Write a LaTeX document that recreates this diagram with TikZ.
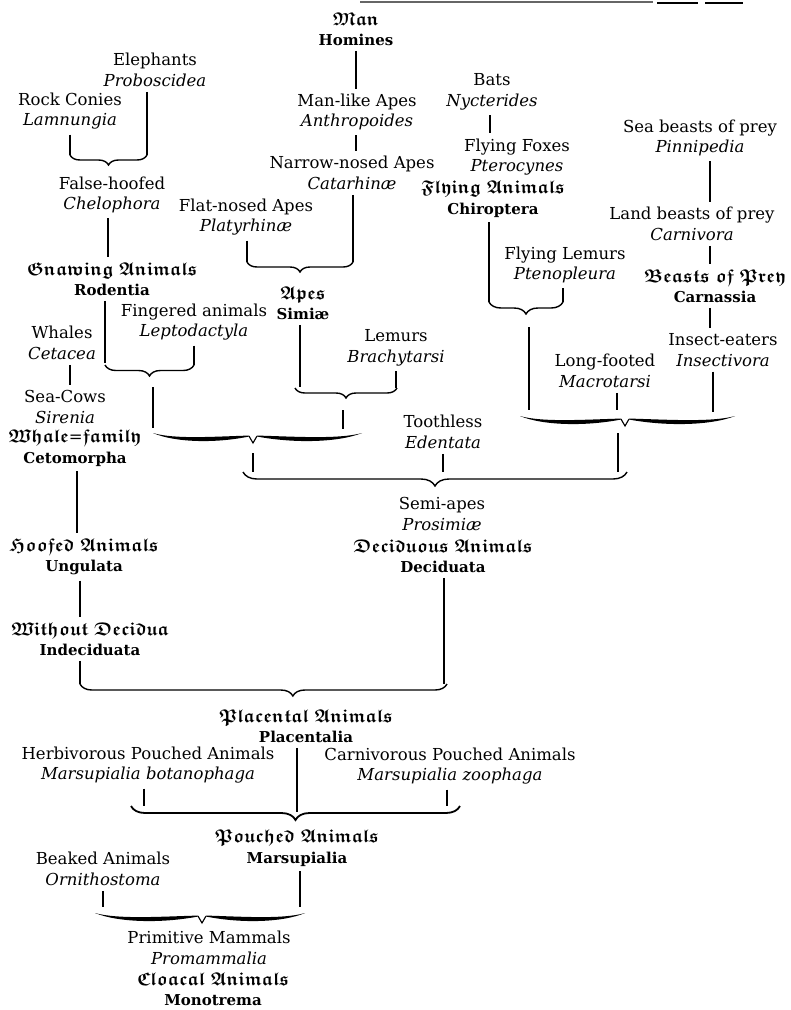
\documentclass[tikz,border=0pt]{standalone}
\usepackage{amssymb}
\usepackage{fontspec}
\setmainfont{DejaVu Serif}
\usetikzlibrary{decorations.pathreplacing}
\newcommand\fraktext[1]{{\fontsize{18.5}{20.5}\selectfont\mathversion{bold}$\mathfrak{#1}$}}
\newcommand\latname[1]{\textit{#1}}
\newcommand\grpname[1]{{\bfseries\fontsize{15}{20.5}\selectfont #1}}
% swelling brace: left end, tip, right end, height, amplitude
\newcommand\ornbrace[5]{%
  \fill ({#1},{#4+0.17*#5}) .. controls ({#1+0.22*(#2-#1)},{#4+0.71*#5}) and ({#1+0.62*(#2-#1)},{#4+0.46*#5}) .. ({#2-4},{#4+0.38*#5})
    -- ({#2-4},{#4+0.46*#5}) .. controls ({#1+0.62*(#2-#1)},{#4+1.04*#5}) and ({#1+0.22*(#2-#1)},{#4+0.96*#5}) .. cycle;
  \fill ({#3},{#4+0.17*#5}) .. controls ({#3-0.22*(#3-#2)},{#4+0.71*#5}) and ({#3-0.62*(#3-#2)},{#4+0.46*#5}) .. ({#2+4},{#4+0.38*#5})
    -- ({#2+4},{#4+0.46*#5}) .. controls ({#3-0.62*(#3-#2)},{#4+1.04*#5}) and ({#3-0.22*(#3-#2)},{#4+0.96*#5}) .. cycle;
  \draw[line width=1.1pt] ({#2-4},{#4+0.42*#5}) -- ({#2},{#4+#5}) -- ({#2+4},{#4+0.42*#5});
}

\begin{document}
\begin{tikzpicture}[x=1pt,y=-1pt,
  taxon/.style={align=center,inner sep=2pt,font=\fontsize{16.5}{20.5}\selectfont},
  link/.style={line width=1.5pt,shorten <=3pt,shorten >=3pt},
  stem/.style={line width=1.5pt,shorten <=3pt},
  lbrace/.style={decorate,decoration={brace,amplitude=#1},line width=1.4pt}]
\useasboundingbox (0,0) rectangle (791,1010);
% rule at the head of the page
\draw[line width=1.1pt,black!60] (360,2) -- (653,2);
\draw[line width=1.3pt] (657,3) -- (698,3) (705,3) -- (743,3);

% apes and their kin
\node[taxon] (man) at (356,29) {\fraktext{Man}\\\grpname{Homines}};
\node[taxon] (manlike) at (357,112) {Man-like Apes\\\latname{Anthropoides}};
\node[taxon] (narrow) at (352,173) {Narrow-nosed Apes\\\latname{Catarhinæ}};
\node[taxon] (flat) at (246,217) {Flat-nosed Apes\\\latname{Platyrhinæ}};
\node[taxon] (apes) at (303,303) {\fraktext{Apes}\\\grpname{Simiæ}};
\node[taxon] (lemurs) at (396,348) {Lemurs\\\latname{Brachytarsi}};
% hoofed side
\node[taxon] (eleph) at (155,70) {Elephants\\\latname{Proboscidea}};
\node[taxon] (rock) at (70,111) {Rock Conies\\\latname{Lamnungia}};
\node[taxon] (false) at (112,195) {False-hoofed\\\latname{Chelophora}};
\node[taxon] (gnaw) at (112,279) {\fraktext{Gnawing\ Animals}\\\grpname{Rodentia}};
\node[taxon] (finger) at (194,322) {Fingered animals\\\latname{Leptodactyla}};
\node[taxon] (whales) at (62,343) {Whales\\\latname{Cetacea}};
\node[taxon] (seacow) at (65,407) {Sea-Cows\\\latname{Sirenia}};
\node[taxon] (cetom) at (75,448) {\fraktext{Whale}=\fraktext{family}\\\grpname{Cetomorpha}};
\node[taxon] (hoofed) at (84,557) {\fraktext{Hoofed\ Animals}\\\grpname{Ungulata}};
\node[taxon] (without) at (90,639) {\fraktext{Without\ Decidua}\\\grpname{Indeciduata}};
% bats and beasts of prey
\node[taxon] (bats) at (492,92) {Bats\\\latname{Nycterides}};
\node[taxon] (foxes) at (517,157) {Flying Foxes\\\latname{Pterocynes}};
\node[taxon] (chiro) at (493,199) {\fraktext{Flying\ Animals}\\\grpname{Chiroptera}};
\node[taxon] (flylem) at (565,265) {Flying Lemurs\\\latname{Ptenopleura}};
\node[taxon] (seabeast) at (700,138) {Sea beasts of prey\\\latname{Pinnipedia}};
\node[taxon] (landbeast) at (692,224) {Land beasts of prey\\\latname{Carnivora}};
\node[taxon] (beasts) at (715,286) {\fraktext{Beasts\ of\ Prey}\\\grpname{Carnassia}};
\node[taxon] (insect) at (723,350) {Insect-eaters\\\latname{Insectivora}};
\node[taxon] (longf) at (605,371) {Long-footed\\\latname{Macrotarsi}};
\node[taxon] (tooth) at (443,432) {Toothless\\\latname{Edentata}};
\node[taxon] (semi) at (442,514) {Semi-apes\\\latname{Prosimiæ}};
\node[taxon] (decid) at (443,556) {\fraktext{Deciduous\ Animals}\\\grpname{Deciduata}};
% lower stem
\node[taxon] (placental) at (306,726) {\fraktext{Placental\ Animals}\\\grpname{Placentalia}};
\node[taxon] (herb) at (148,765) {Herbivorous Pouched Animals\\\latname{Marsupialia botanophaga}};
\node[taxon] (carn) at (450,766) {Carnivorous Pouched Animals\\\latname{Marsupialia zoophaga}};
\node[taxon] (pouched) at (297,848) {\fraktext{Pouched\ Animals}\\\grpname{Marsupialia}};
\node[taxon] (beaked) at (103,869) {Beaked Animals\\\latname{Ornithostoma}};
\node[taxon] (primitive) at (209,948) {Primitive Mammals\\\latname{Promammalia}};
\node[taxon] (cloacal) at (213,989) {\fraktext{Cloacal\ Animals}\\\grpname{Monotrema}};

% straight descents
\foreach \a/\b/\x in {man/manlike/356,manlike/narrow/356,false/gnaw/108,whales/seacow/70,
    cetom/hoofed/77,hoofed/without/80,bats/foxes/490,seabeast/landbeast/710,
    landbeast/beasts/710,beasts/insect/710} {
  \coordinate (v) at (\x,0);
  \draw[link] (\a.south -| v) -- (\b.north -| v);
}
% stems into the braces
\foreach \a/\x/\y in {flat/247/262,narrow/353/262,rock/70/155,eleph/147/155,gnaw/105/363,
    finger/194/365,apes/300/387,lemurs/396/388,chiro/489/302,flylem/563/302,longf/617/410,
    insect/713/412,tooth/443/472,decid/444/684,without/80/684,herb/144/806,carn/447/806,
    placental/297/812,pouched/300/907,beaked/103/907} {
  \coordinate (e) at (\x,\y);
  \draw[stem] (\a.south -| e) -- (e);
}
% from a brace tip down to the next brace
\foreach \x/\ya/\yb in {153/387/428,343/410/429,253/453/472,529/327/410,618/433/472} {
  \coordinate (t) at (\x,\ya);
  \coordinate (u) at (\x,\yb);
  \draw[line width=1.5pt] (t) -- (u);
}

% braces
\draw[lbrace=10pt] (353,262) -- (247,262);
\draw[lbrace=10pt] (147,155) -- (70,155);
\draw[lbrace=11pt] (194,365) -- (105,365);
\draw[lbrace=10pt] (397,388) -- (295,388);
\draw[lbrace=12pt] (563,302) -- (489,302);
\draw[lbrace=14pt] (627,472) -- (243,472);
\draw[lbrace=12pt,decoration={aspect=0.42}] (447,684) -- (80,684);
\draw[lbrace=14pt,line width=1.8pt] (460,806) -- (131,806);
\ornbrace{153}{253}{362}{431}{12}
\ornbrace{520}{625}{735}{414}{12}
\ornbrace{95}{202}{305}{911}{12}
\end{tikzpicture}
\end{document}
